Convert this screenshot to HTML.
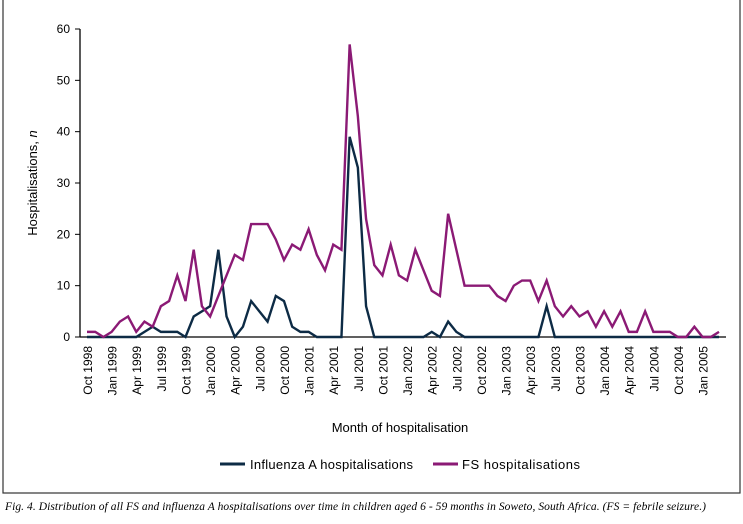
<!DOCTYPE html>
<html><head><meta charset="utf-8"><style>
body{margin:0;background:#fff;width:743px;height:519px;overflow:hidden;font-family:"Liberation Sans",sans-serif}
</style></head><body>
<svg width="743" height="519" xmlns="http://www.w3.org/2000/svg">
<rect x="3" y="-2" width="737" height="495" fill="none" stroke="#333" stroke-width="1.2"/>
<g id="yaxis"></g>
<g id="xaxis"></g>
<g id="series"></g>
<text transform="translate(37,183) rotate(-90)" text-anchor="middle" font-size="13">Hospitalisations, <tspan font-style="italic">n</tspan></text>
<text x="400" y="432" text-anchor="middle" font-size="13">Month of hospitalisation</text>
<g>
<line x1="220" y1="464" x2="245" y2="464" stroke="#0d2b45" stroke-width="3"/>
<text x="250" y="469" font-size="13" textLength="163">Influenza A hospitalisations</text>
<line x1="433" y1="464" x2="458" y2="464" stroke="#8b1a75" stroke-width="3"/>
<text x="462" y="469" font-size="13" textLength="118">FS hospitalisations</text>
</g>
<text x="5" y="510" font-size="11.5" font-style="italic" font-family="'Liberation Serif',serif" textLength="701">Fig. 4. Distribution of all FS and influenza A hospitalisations over time in children aged 6 - 59 months in Soweto, South Africa. (FS = febrile seizure.)</text>
</svg>
<script>
const monthNames=["Oct","Nov","Dec","Jan","Feb","Mar","Apr","May","Jun","Jul","Aug","Sep"];
const yTicks=[0,10,20,30,40,50,60];
const fsValues=[1,1,0,1,3,4,1,3,2,6,7,12,7,17,6,4,8,12,16,15,22,22,22,19,15,18,17,21,16,13,18,17,57,43,23,14,12,18,12,11,17,13,9,8,24,17,10,10,10,10,8,7,10,11,11,7,11,6,4,6,4,5,2,5,2,5,1,1,5,1,1,1,0,0,2,0,0,1];
const fluValues=[0,0,0,0,0,0,0,1,2,1,1,1,0,4,5,6,17,4,0,2,7,5,3,8,7,2,1,1,0,0,0,0,39,33,6,0,0,0,0,0,0,0,1,0,3,1,0,0,0,0,0,0,0,0,0,0,6,0,0,0,0,0,0,0,0,0,0,0,0,0,0,0,0,0,0,0,0,0];
const NS="http://www.w3.org/2000/svg";
const x0=87,x1=719,y0=337,y1=29,n=fsValues.length;
const xS=i=>x0+i*(x1-x0)/(n-1);
const yS=v=>y0-(v/60)*(y0-y1);
function mk(t,a,p){const e=document.createElementNS(NS,t);for(const k in a)e.setAttribute(k,a[k]);p.appendChild(e);return e;}
const ya=document.getElementById('yaxis');
mk('line',{x1:80,y1:y0,x2:80,y2:y1,stroke:'#000','stroke-width':1.3},ya);
yTicks.forEach(v=>{
 const t=mk('line',{x1:75,x2:80,y1:yS(v),y2:yS(v),stroke:'#000'},ya);
 
 
 const l=mk('text',{x:70,y:yS(v)+4,'text-anchor':'end','font-size':12},ya);
 
 
 l.textContent=v;
});
const xa=document.getElementById('xaxis');
mk('line',{x1:80,y1:y0,x2:726,y2:y0,stroke:'#000','stroke-width':1.3},xa);
for(let i=0;i<n;i+=3){
 const yr=1998+Math.floor((i+9)/12);
 const l=mk('text',{transform:`translate(${xS(i)+5},346) rotate(-90)`,'text-anchor':'end','font-size':12},xa);
 
 
 l.textContent=monthNames[i%12]+" "+yr;
}
const sg=document.getElementById('series');
function line(vals,color,name){
 const p=mk('polyline',{points:vals.map((v,i)=>xS(i)+','+yS(v)).join(' '),fill:'none',stroke:color,'stroke-width':2.4,'stroke-linejoin':'miter'},sg);
 
 
}
line(fluValues,'#0d2b45','influenza-a-line');
line(fsValues,'#8b1a75','fs-line');
</script>
</body></html>
